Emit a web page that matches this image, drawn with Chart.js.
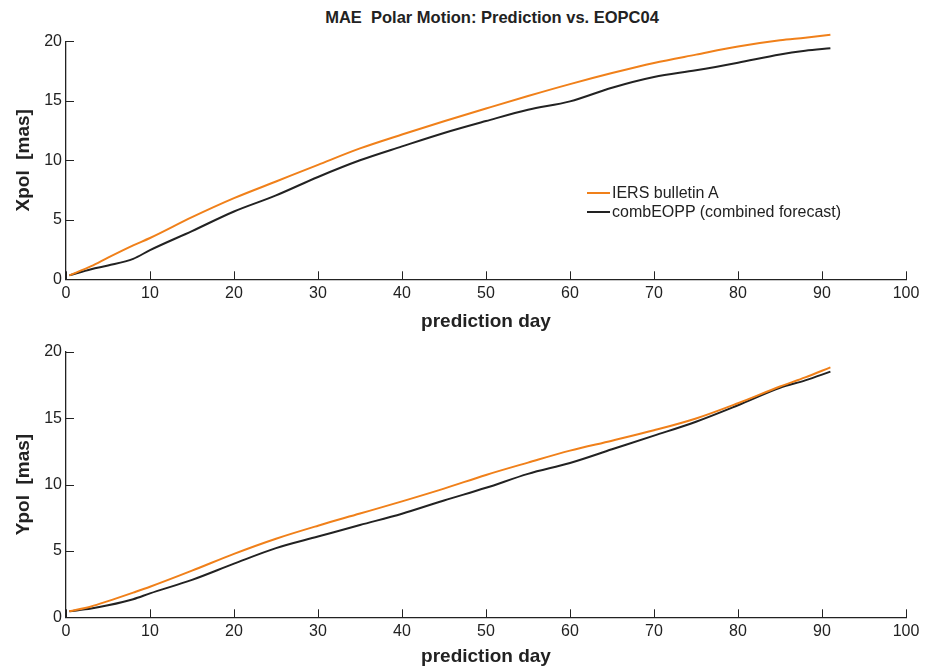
<!DOCTYPE html>
<html>
<head>
<meta charset="utf-8">
<script src="https://cdn.jsdelivr.net/npm/chart.js@4/dist/chart.umd.min.js"></script>
<style>
  html, body { margin: 0; padding: 0; background: #fff; }
  #wrap { position: relative; width: 934px; height: 670px; font-family: "Liberation Sans", Arial, sans-serif; color: #222; }
  canvas { position: absolute; left: 0; }
  #title { position: absolute; top: 7px; left: 492px; transform: translateX(-50%); font-weight: bold; font-size: 16.5px; line-height: 20px; white-space: pre; color: #222; }
  #legend { position: absolute; left: 587px; top: 183px; font-size: 16px; line-height: 19px; color: #222; }
  .row { display: flex; align-items: center; height: 19px; white-space: pre; }
  .swatch { display: inline-block; width: 23px; height: 2px; margin-right: 2px; }
</style>
</head>
<body>
<div id="wrap">
  <div id="title"></div>
  <canvas id="top" width="934" height="335" style="top:0"></canvas>
  <canvas id="bot" width="934" height="335" style="top:335px"></canvas>
  <div id="legend"></div>
</div>
<script>
// ---- data ----
const days = [0.4, 3, 5, 8, 10, 15, 20, 25, 30, 35, 40, 45, 50, 55, 60, 65, 70, 75, 80, 85, 88, 91];
const xpolIERS = [0.33, 1.1, 1.82, 2.85, 3.47, 5.22, 6.82, 8.22, 9.62, 11.0, 12.17, 13.28, 14.35, 15.4, 16.4, 17.33, 18.18, 18.88, 19.56, 20.08, 20.3, 20.55];
const xpolComb = [0.33, 0.85, 1.16, 1.72, 2.45, 4.05, 5.7, 7.05, 8.6, 10.0, 11.17, 12.3, 13.3, 14.25, 14.95, 16.1, 17.0, 17.56, 18.2, 18.9, 19.2, 19.41];
const ypolIERS = [0.45, 0.82, 1.22, 1.86, 2.3, 3.51, 4.78, 5.92, 6.9, 7.81, 8.73, 9.69, 10.72, 11.65, 12.55, 13.3, 14.08, 14.97, 16.12, 17.38, 18.07, 18.82];
const ypolComb = [0.45, 0.66, 0.9, 1.36, 1.8, 2.82, 4.04, 5.21, 6.08, 6.95, 7.8, 8.8, 9.75, 10.8, 11.62, 12.65, 13.68, 14.73, 15.97, 17.28, 17.84, 18.5];
const seriesNames = ['IERS bulletin A', 'combEOPP (combined forecast)'];
const seriesColors = ['#F0801A', '#222222'];
const xTicks = [0, 10, 20, 30, 40, 50, 60, 70, 80, 90, 100];
const yTicks = [0, 5, 10, 15, 20];
const title = 'MAE  Polar Motion: Prediction vs. EOPC04';
const xLabel = 'prediction day';
const yLabels = ['Xpol  [mas]', 'Ypol  [mas]'];

const FONT = '"Liberation Sans", Arial, sans-serif';
const toPts = (ys) => days.map((d, i) => ({x: d, y: ys[i]}));

const inwardTicks = {
  id: 'inwardTicks',
  afterDraw(chart) {
    const {ctx, chartArea: a, scales: {x, y}} = chart;
    ctx.save();
    ctx.strokeStyle = '#222';
    ctx.lineWidth = 1;
    ctx.beginPath();
    xTicks.forEach(v => { const p = Math.round(x.getPixelForValue(v)) + 0.5; ctx.moveTo(p, a.bottom); ctx.lineTo(p, a.bottom - 8); });
    yTicks.forEach(v => { const p = Math.round(y.getPixelForValue(v)) + 0.5; ctx.moveTo(a.left, p); ctx.lineTo(a.left + 8, p); });
    ctx.stroke();
    ctx.restore();
  }
};

function makeChart(id, a, b, yLabel, padTop, xHeight) {
  return new Chart(document.getElementById(id), {
    type: 'line',
    data: {
      datasets: [
        {label: seriesNames[0], data: toPts(a), borderColor: seriesColors[0], borderWidth: 2, pointRadius: 0, cubicInterpolationMode: 'monotone', fill: false, clip: false},
        {label: seriesNames[1], data: toPts(b), borderColor: seriesColors[1], borderWidth: 2, pointRadius: 0, cubicInterpolationMode: 'monotone', fill: false, clip: false}
      ]
    },
    options: {
      responsive: false,
      animation: false,
      events: [],
      layout: {padding: {top: padTop, right: 28, left: 0, bottom: 0}},
      plugins: {legend: {display: false}, tooltip: {enabled: false}, title: {display: false}},
      scales: {
        x: {
          type: 'linear', min: 0, max: 100,
          afterBuildTicks: (s) => { s.ticks = xTicks.map(v => ({value: v})); },
          afterFit: (s) => { s.height = xHeight; },
          grid: {display: true, drawOnChartArea: false, drawTicks: false},
          border: {display: true, color: '#222', width: 1.3},
          ticks: {font: {family: FONT, size: 16}, color: '#222', padding: 5, maxRotation: 0, autoSkip: false},
          title: {display: true, text: xLabel, font: {family: FONT, size: 19, weight: 'bold'}, color: '#222', padding: {top: 0, bottom: 1.6}}
        },
        y: {
          type: 'linear', min: 0, max: 20,
          afterBuildTicks: (s) => { s.ticks = yTicks.map(v => ({value: v})); },
          afterFit: (s) => { s.width = 66; },
          grid: {display: true, drawOnChartArea: false, drawTicks: false},
          border: {display: true, color: '#222', width: 1.3},
          ticks: {font: {family: FONT, size: 16}, color: '#222', padding: 4},
          title: {display: true, text: yLabel, font: {family: FONT, size: 19, weight: 'bold'}, color: '#222', padding: {top: 12.6, bottom: 0}}
        }
      }
    },
    plugins: [inwardTicks]
  });
}

makeChart('top', xpolIERS, xpolComb, yLabels[0], 41.3, 55.7);
makeChart('bot', ypolIERS, ypolComb, yLabels[1], 16.7, 52.7);

document.getElementById('title').textContent = title;
const leg = document.getElementById('legend');
seriesNames.forEach((n, i) => {
  const r = document.createElement('div'); r.className = 'row';
  const s = document.createElement('span'); s.className = 'swatch'; s.style.background = seriesColors[i];
  const t = document.createElement('span'); t.textContent = n;
  r.appendChild(s); r.appendChild(t); leg.appendChild(r);
});
</script>
</body>
</html>
